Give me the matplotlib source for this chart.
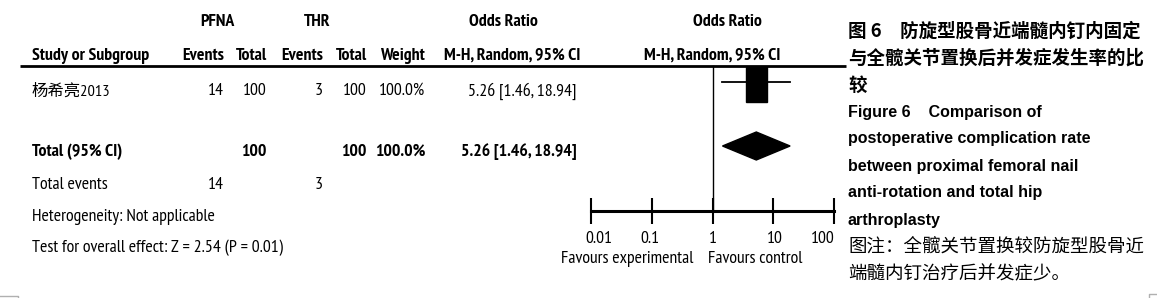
import matplotlib
matplotlib.use("Agg")
import matplotlib.pyplot as plt
from matplotlib import font_manager
from matplotlib.patches import Rectangle, Polygon
from matplotlib.transforms import ScaledTranslation

# ---------------- data ----------------
studies = ["杨希亮2013"]
pfna_events = [14]
pfna_total = [100]
thr_events = [3]
thr_total = [100]
weights = ["100.0%"]
or_values = [5.26]
ci_low = [1.46]
ci_high = [18.94]

total_pfna = 100
total_thr = 100
total_or = 5.26
total_low = 1.46
total_high = 18.94
total_events = [14, 3]

tick_values = [0.01, 0.1, 1, 10, 100]
tick_labels = ["0.01", "0.1", "1", "10", "100"]

caption_cn_bold = ["图 6　防旋型股骨近端髓内钉内固定",
                   "与全髋关节置换后并发症发生率的比",
                   "较"]
caption_en_bold = ["Figure 6    Comparison of",
                   "postoperative complication rate",
                   "between proximal femoral nail",
                   "anti-rotation and total hip",
                   "arthroplasty"]
caption_note = ["图注：全髋关节置换较防旋型股骨近",
                "端髓内钉治疗后并发症少。"]

# ---------------- fonts ----------------
fl = font_manager.fontManager.ttflist
names = {f.name for f in fl}
def has_bold(n):
    return any(f.name == n and (f.weight in ("bold", 700) or
               (isinstance(f.weight, int) and f.weight >= 600)) for f in fl)
cands = ["Liberation Sans Narrow", "Arial Narrow", "Archivo Narrow",
         "PT Sans Narrow", "Roboto Condensed", "Asap Condensed",
         "Barlow Condensed"]
NARROW = "Liberation Sans"
for cand in cands:
    if cand in names and has_bold(cand):
        NARROW = cand
        break
TF = [NARROW, "Noto Sans CJK SC", "DejaVu Sans"]
CJK = ["Noto Sans CJK SC", "DejaVu Sans"]
ARIAL = ["Liberation Sans", "DejaVu Sans"]

W, H = 1157, 298
fig = plt.figure(figsize=(W / 100, H / 100), dpi=100)
ax = fig.add_axes([0, 0, 1, 1])
ax.set_xlim(0, W)
ax.set_ylim(H, 0)
ax.axis("off")

fs = 12.8
def t(x, y, s, ha="left", bold=False, size=fs, fam=TF, **kw):
    ax.text(x, y, s, ha=ha, va="center", fontsize=size,
            fontweight="bold" if bold else "normal", family=fam, color="black", **kw)

# headers
t(217, 22, "PFNA", ha="center", bold=True)
t(317, 22, "THR", ha="center", bold=True)
t(503, 22, "Odds Ratio", ha="center", bold=True)
t(727, 22, "Odds Ratio", ha="center", bold=True)

hy = 56
t(32, hy, "Study or Subgroup", bold=True)
t(224, hy, "Events", ha="right", bold=True)
t(267, hy, "Total", ha="right", bold=True)
t(323, hy, "Events", ha="right", bold=True)
t(367, hy, "Total", ha="right", bold=True)
t(425, hy, "Weight", ha="right", bold=True)
t(512, hy, "M-H, Random, 95% CI", ha="center", bold=True)
t(712, hy, "M-H, Random, 95% CI", ha="center", bold=True)
ax.plot([20, 846], [66, 66], color="black", lw=2, solid_capstyle="butt")

# study rows
row_y = [91]
for i, s in enumerate(studies):
    y = row_y[i]
    t(32, y, s, size=11.8)
    t(224, y, str(pfna_events[i]), ha="right")
    t(267, y, str(pfna_total[i]), ha="right")
    t(323, y, str(thr_events[i]), ha="right")
    t(367, y, str(thr_total[i]), ha="right")
    t(425, y, weights[i], ha="right")
    t(577, y, f"{or_values[i]:.2f} [{ci_low[i]:.2f}, {ci_high[i]:.2f}]", ha="right")

ty = 152
t(32, ty, "Total (95% CI)", bold=True)
t(267, ty, str(total_pfna), ha="right", bold=True)
t(367, ty, str(total_thr), ha="right", bold=True)
t(425, ty, "100.0%", ha="right", bold=True)
t(577, ty, f"{total_or:.2f} [{total_low:.2f}, {total_high:.2f}]", ha="right", bold=True)

t(32, 185, "Total events")
t(224, 185, str(total_events[0]), ha="right")
t(323, 185, str(total_events[1]), ha="right")
t(32, 217, "Heterogeneity: Not applicable")
t(32, 248, "Test for overall effect: Z = 2.54 (P = 0.01)")

# ---------------- forest axes ----------------
fx0, fx1 = 591, 834
fa = fig.add_axes([fx0 / W, 0, (fx1 - fx0) / W, 1])
fa.set_xscale("log")
fa.set_xlim(tick_values[0], tick_values[-1])
fa.set_ylim(H, 0)
fa.patch.set_alpha(0)
for sp in ["top", "right", "left"]:
    fa.spines[sp].set_visible(False)
fa.spines["bottom"].set_position(("data", 211))
fa.spines["bottom"].set_linewidth(2.2)
fa.set_yticks([])
fa.set_xticks(tick_values)
fa.set_xticklabels(tick_labels)
fa.minorticks_off()
fa.tick_params(axis="x", direction="inout", length=19, width=1.5, pad=5,
               labelsize=fs)
labels = fa.get_xticklabels()
shifts = [8, -2, 0, 2, -11]
for lb, dx in zip(labels, shifts):
    lb.set_family(TF)
    lb.set_transform(lb.get_transform() + ScaledTranslation(dx / 100, 0, fig.dpi_scale_trans))

fa.plot([1, 1], [66, 211], color="black", lw=1)

dec_per_px = 4.0 / (fx1 - fx0)
for i in range(len(studies)):
    y = row_y[i] - 9
    fa.plot([ci_low[i], ci_high[i]], [y, y], color="black", lw=1.3)
    half = 10.5 * dec_per_px
    x0 = or_values[i] / 10 ** half
    x1 = or_values[i] * 10 ** half
    fa.add_patch(Rectangle((x0, 67), x1 - x0, 35, color="black"))

dy = 146
fa.add_patch(Polygon([(total_low, dy), (total_or, dy - 14), (total_high, dy),
                      (total_or, dy + 14)], closed=True, color="black"))

ax.text(627, 259, "Favours experimental", ha="center", va="center",
        fontsize=fs, family=TF)
ax.text(755, 259, "Favours control", ha="center", va="center",
        fontsize=fs, family=TF)

# ---------------- caption ----------------
cx = 848
cy = 31
step = 27
k = 0
for s in caption_cn_bold:
    ax.text(cx, cy + k * step, s, ha="left", va="center", fontsize=13.3,
            fontweight="bold", family=CJK)
    k += 1
for s in caption_en_bold:
    ax.text(cx, cy + k * step, s, ha="left", va="center", fontsize=11.5,
            fontweight="bold", family=ARIAL)
    k += 1
for s in caption_note:
    ax.text(cx, cy + k * step, s, ha="left", va="center", fontsize=13.3,
            family=CJK)
    k += 1

# page corner marks
ax.plot([0, 18, 18], [296, 296, H], color="#b0b0b0", lw=1)
ax.plot([1149, 1149, W], [H, 294, 294], color="#b0b0b0", lw=1)

fig.savefig("out.png", dpi=100)
